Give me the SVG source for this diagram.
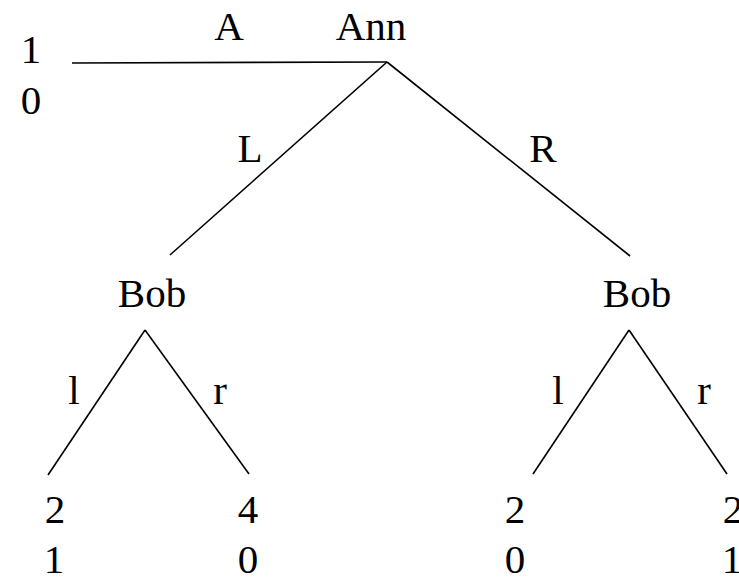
<svg xmlns="http://www.w3.org/2000/svg" width="739" height="579" viewBox="0 0 739 579">
  <style>
    text { font-family: "Liberation Serif", "Times New Roman", serif; font-size: 41px; fill: #000; text-anchor: middle; }
    .edge { stroke: #000; stroke-width: 1.6; fill: none; stroke-linecap: butt; }
  </style>
  <rect width="739" height="579" fill="#fff"/>

  <!-- tree branches -->
  <g id="connectors">
    <line class="edge" x1="72" y1="63" x2="387" y2="62"/>
    <line class="edge" x1="387" y1="62" x2="170" y2="255"/>
    <line class="edge" x1="387" y1="62" x2="630" y2="256"/>
    <line class="edge" x1="145" y1="330" x2="48" y2="475"/>
    <line class="edge" x1="145" y1="330" x2="249" y2="474"/>
    <line class="edge" x1="629" y1="330" x2="533" y2="474"/>
    <line class="edge" x1="629" y1="330" x2="727" y2="474"/>
  </g>

  <!-- branch labels -->
  <g id="edge-labels">
    <text x="229" y="40">A</text>
    <text x="250" y="162">L</text>
    <text x="543" y="162">R</text>
    <text x="74" y="404">l</text>
    <text x="220" y="404">r</text>
    <text x="558" y="404">l</text>
    <text x="704" y="404">r</text>
  </g>

  <!-- decision nodes -->
  <g id="node-ann">
    <text x="371" y="40">Ann</text>
  </g>
  <g id="node-bob-left">
    <text x="152" y="307">Bob</text>
  </g>
  <g id="node-bob-right">
    <text x="637" y="307">Bob</text>
  </g>

  <!-- payoffs -->
  <g id="payoff-A">
    <text x="31" y="63">1</text>
    <text x="31" y="114">0</text>
  </g>
  <g id="payoff-Ll">
    <text x="55" y="523">2</text>
    <text x="54" y="573">1</text>
  </g>
  <g id="payoff-Lr">
    <text x="248" y="523">4</text>
    <text x="248" y="573">0</text>
  </g>
  <g id="payoff-Rl">
    <text x="515" y="523">2</text>
    <text x="515" y="573">0</text>
  </g>
  <g id="payoff-Rr">
    <text x="733" y="523">2</text>
    <text x="732" y="573">1</text>
  </g>
</svg>
